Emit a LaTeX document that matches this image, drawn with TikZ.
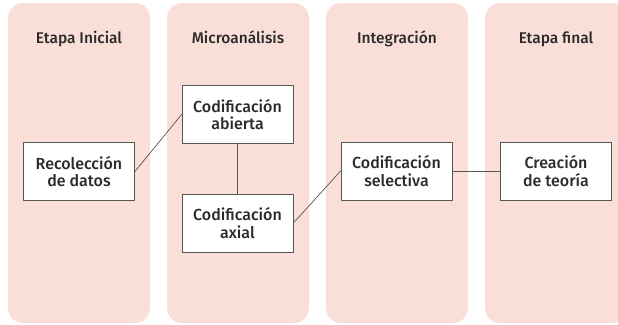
\documentclass[tikz,border=0pt]{standalone}
\usepackage{fontspec}
\newfontfamily\medio{Fira Sans Medium}
\definecolor{fondo}{HTML}{FADFD8}
\definecolor{borde}{HTML}{555555}
\definecolor{texto}{HTML}{2A2A2A}
\begin{document}
\begin{tikzpicture}[x=1pt,y=-1pt,line join=round,line cap=round,
		etapa/.style={fill=fondo,rounded corners=15pt},
		titulo/.style={font=\medio\fontsize{15.5}{17}\selectfont,text=texto,anchor=base},
		caja/.style={draw=borde,fill=white,line width=0.8pt,minimum width=111pt,
			minimum height=58pt,align=center,inner sep=2pt,
			font=\medio\fontsize{16}{17.5}\selectfont,text=texto},
		conector/.style={draw=borde,line width=0.7pt}]
			\def\ancho{142}
			\def\paso{159}
			\useasboundingbox (0,0) rectangle (618,324);
			% columnas de etapas
			\foreach \i/\nombre in {0/Etapa Inicial,1/Microanálisis,2/Integración,3/Etapa final}{
				\fill[etapa] (8+\paso*\i,3) rectangle ++(\ancho,320);
				\node[titulo] (titulo\i) at (79+\paso*\i,43) {\nombre};
			}
			% cajas
			\node[caja] (recoleccion) at (79,171.5) {Recolección\\de datos};
			\node[caja] (abierta) at (237.5,114.5) {Codificación\\abierta};
			\node[caja] (axial) at (237.5,223) {Codificación\\axial};
			\node[caja] (selectiva) at (396.5,171) {Codificación\\selectiva};
			\node[caja] (teoria) at (556,171) {Creación\\de teoría};
			% conectores
			\draw[conector] (recoleccion.east)--(abierta.west);
			\draw[conector] (abierta.south)--(axial.north);
			\draw[conector] (axial.east)--(selectiva.west);
			\draw[conector] (selectiva.east)--(teoria.west);
		\end{tikzpicture}
\end{document}
